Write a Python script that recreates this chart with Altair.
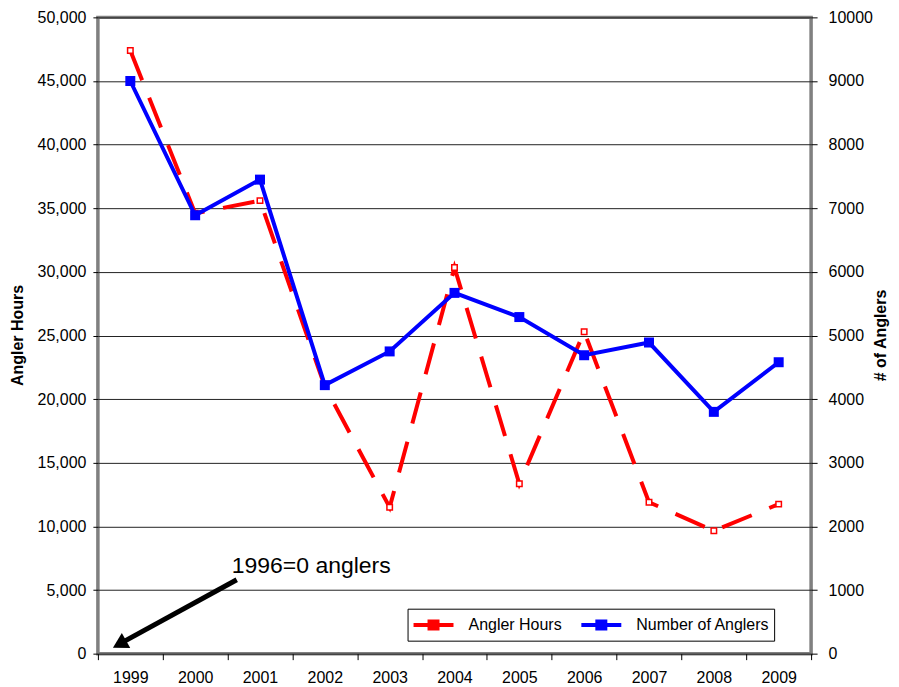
import altair as alt
import pandas as pd

years = ["1999", "2000", "2001", "2002", "2003", "2004", "2005", "2006", "2007", "2008", "2009"]
angler_hours = [47400, 34600, 35600, 21000, 11500, 30350, 13350, 25300, 11900, 9650, 11750]
num_anglers = [9000, 6890, 7450, 4220, 4750, 5670, 5290, 4690, 4890, 3800, 4580]
left_ticks = [0, 5000, 10000, 15000, 20000, 25000, 30000, 35000, 40000, 45000, 50000]
right_ticks = [0, 1000, 2000, 3000, 4000, 5000, 6000, 7000, 8000, 9000, 10000]
series_names = ["Angler Hours", "Number of Anglers"]
series_colors = ["#ff0000", "#0000ff"]
note = "1996=0 anglers"

FONT = "Liberation Sans"

df = pd.DataFrame({"Year": years, "Hours": angler_hours, "Anglers": num_anglers})

x_enc = alt.X(
    "Year:N",
    bandPosition=0.5,
    scale=alt.Scale(type="band", paddingInner=0, paddingOuter=0),
    axis=alt.Axis(
        title=None, labelAngle=0, tickBand="extent", grid=False, domain=False,
        ticks=True, tickSize=6, tickColor="black", tickWidth=1,
        labelPadding=10, labelFontSize=16, labelColor="black", labelFont=FONT,
    ),
)

left_y = alt.Y(
    "Hours:Q",
    scale=alt.Scale(domain=[0, 50000], nice=False),
    axis=alt.Axis(
        orient="left", values=left_ticks, format=",.0f", title="Angler Hours",
        grid=True, gridColor="#222222", gridWidth=1, domain=False,
        tickSize=5, tickColor="black", labelPadding=7,
        labelFontSize=16, labelColor="black", labelFont=FONT,
        titleFont=FONT, titleFontSize=16, titleFontWeight="bold", titleColor="black",
        titleAngle=270, titleX=-80, titleY=318, titleAlign="center", titleBaseline="middle",
    ),
)

right_y = alt.Y(
    "Anglers:Q",
    scale=alt.Scale(domain=[0, 10000], nice=False),
    axis=alt.Axis(
        orient="right", values=right_ticks, format="d", title="# of Anglers",
        grid=False, domain=False,
        tickSize=6, tickColor="black", labelPadding=11,
        labelFontSize=16, labelColor="black", labelFont=FONT,
        titleFont=FONT, titleFontSize=16, titleFontWeight="bold", titleColor="black",
        titleAngle=270, titleX=69, titleY=318, titleAlign="center", titleBaseline="middle",
    ),
)

legend = alt.Legend(
    title=None, orient="none", legendX=310, legendY=592, direction="horizontal",
    symbolType="M-1,0H3M0.6,-0.35H1.4V0.35H0.6Z", symbolSize=400, symbolStrokeWidth=4,
    labelOffset=33, columnPadding=11, padding=4,
    strokeColor="black", fillColor="white",
    labelFont=FONT, labelFontSize=16, labelColor="black", labelLimit=300,
)
color_enc = alt.Color(
    "series:N",
    scale=alt.Scale(domain=series_names, range=series_colors),
    legend=legend,
)

base = alt.Chart(df)

red_line = base.transform_calculate(series="'Angler Hours'").mark_line(
    strokeWidth=4, strokeDash=[32, 19]
).encode(x=x_enc, y=left_y, color=color_enc)
red_pts = base.mark_point(
    shape="square", size=30, fill="white", stroke="#ff0000", strokeWidth=1.5, opacity=1
).encode(x=x_enc, y=left_y)

blue_line = base.transform_calculate(series="'Number of Anglers'").mark_line(
    strokeWidth=4
).encode(x=x_enc, y=right_y, color=color_enc)
blue_pts = base.mark_point(
    shape="square", size=100, filled=True, color="#0000ff", opacity=1
).encode(x=x_enc, y=right_y)

left = alt.layer(red_line, red_pts)
right = alt.layer(blue_line, blue_pts)

annot_text = alt.Chart(pd.DataFrame({"t": [note]})).mark_text(
    align="left", baseline="alphabetic", font=FONT, fontSize=23, color="black"
).encode(x=alt.value(134), y=alt.value(556), text="t:N")

annot_rule = alt.Chart(pd.DataFrame({"t": [note]})).mark_rule(
    color="black", strokeWidth=5
).encode(x=alt.value(139), y=alt.value(563), x2=alt.value(24), y2=alt.value(626))

annot_head = alt.Chart(pd.DataFrame({"t": [note]})).mark_point(
    shape="triangle", filled=True, color="black", size=300, angle=241, opacity=1
).encode(x=alt.value(23.8), y=alt.value(626.2))

chart = alt.layer(left, right, annot_rule, annot_head, annot_text).resolve_scale(
    y="independent"
).properties(
    width=714, height=637,
    autosize=alt.AutoSizeParams(type="none"),
    padding={"left": 90, "top": 9, "right": 80, "bottom": 32},
    background="white",
).configure_view(stroke="#808080", strokeWidth=3.5)

chart.save("out.html", embed_options={"renderer": "svg", "actions": False})
